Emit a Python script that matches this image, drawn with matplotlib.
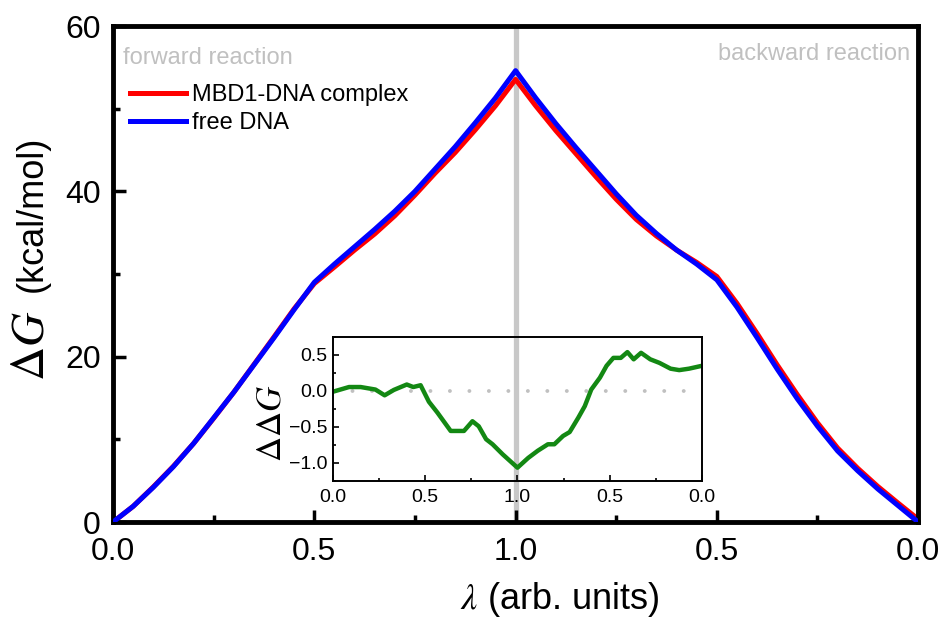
import numpy as np
import matplotlib
matplotlib.use('Agg')
import matplotlib.pyplot as plt
from matplotlib.ticker import MultipleLocator

plt.rcParams['font.family'] = ['Liberation Sans', 'DejaVu Sans']
plt.rcParams['mathtext.fontset'] = 'stix'

# main curves, x runs forward 0->1 then backward 1->0 (plotted as 0..2)
lam = [0.0, 0.05, 0.10, 0.15, 0.20, 0.25, 0.30, 0.35, 0.40, 0.45, 0.50,
       0.55, 0.60, 0.65, 0.70, 0.75, 0.80, 0.85, 0.90, 0.95, 1.00,
       1.05, 1.10, 1.15, 1.20, 1.25, 1.30, 1.35, 1.40, 1.45, 1.50,
       1.55, 1.60, 1.65, 1.70, 1.75, 1.80, 1.85, 1.90, 1.95, 2.00]
free_dna = [0.0, 1.9, 4.2, 6.7, 9.5, 12.6, 15.7, 19.0, 22.3, 25.7, 29.0,
            31.2, 33.3, 35.4, 37.6, 40.0, 42.7, 45.4, 48.3, 51.3, 54.6,
            51.3, 48.2, 45.3, 42.5, 39.7, 37.1, 34.9, 32.9, 31.2, 29.3,
            26.0, 22.3, 18.5, 14.9, 11.6, 8.6, 6.2, 4.0, 2.0, 0.0]
complex_mbd1 = [0.0, 1.9, 4.25, 6.75, 9.5, 12.55, 15.7, 19.05, 22.4, 25.8, 28.85,
                30.85, 32.9, 34.85, 37.05, 39.55, 42.2, 44.7, 47.45, 50.35, 53.55,
                50.35, 47.35, 44.55, 41.75, 39.05, 36.6, 34.6, 32.9, 31.4, 29.7,
                26.45, 22.8, 19.0, 15.4, 12.0, 8.95, 6.5, 4.3, 2.3, 0.35]

# inset: ddG
dd_x = [0.0, 0.087, 0.15, 0.23, 0.28, 0.33, 0.40, 0.435, 0.475, 0.52, 0.566,
        0.638, 0.71, 0.756, 0.79, 0.83, 0.865, 0.92, 1.0, 1.058, 1.11, 1.165,
        1.2, 1.247, 1.283, 1.33, 1.365, 1.40, 1.447, 1.483, 1.52, 1.56, 1.596,
        1.63, 1.67, 1.72, 1.77, 1.83, 1.877, 1.93, 2.0]
dd_g = [-0.01, 0.055, 0.055, 0.02, -0.06, 0.015, 0.09, 0.055, 0.08, -0.15, -0.30,
        -0.555, -0.555, -0.42, -0.49, -0.67, -0.74, -0.88, -1.065, -0.93, -0.83, -0.74,
        -0.74, -0.625, -0.57, -0.37, -0.21, 0.02, 0.185, 0.35, 0.46, 0.46, 0.54,
        0.44, 0.53, 0.44, 0.39, 0.31, 0.29, 0.31, 0.35]

tick_pos = [0, 0.5, 1.0, 1.5, 2.0]
tick_lab = ['0.0', '0.5', '1.0', '0.5', '0.0']

fig = plt.figure(figsize=(9.46, 6.18), dpi=100)
ax = fig.add_axes([0.1195, 0.1553, 0.851, 0.8026])

ax.axvline(1.0, color='#c8c8c8', lw=3.8, zorder=1)
ax.plot(lam, complex_mbd1, color='#ff0000', lw=3.6, label='MBD1-DNA complex', zorder=2)
ax.plot(lam, free_dna, color='#0000ff', lw=3.6, label='free DNA', zorder=3)

ax.set_xlim(0, 2)
ax.set_ylim(0, 60)
ax.set_xticks(tick_pos)
ax.set_xticklabels(tick_lab)
ax.xaxis.set_minor_locator(MultipleLocator(0.25))
ax.set_yticks([0, 20, 40, 60])
ax.yaxis.set_minor_locator(MultipleLocator(10))
ax.tick_params(which='both', direction='in', top=False, right=False, width=2.5)
ax.tick_params(which='major', length=9, labelsize=23)
ax.tick_params(which='minor', length=5)
ax.tick_params(axis='x', which='major', pad=11)
ax.tick_params(axis='y', which='major', pad=9)
for s in ax.spines.values():
    s.set_linewidth(3.5)

ax.text(0.0124, 0.923, 'forward reaction', transform=ax.transAxes,
        color='#c0c0c0', fontsize=17, va='baseline', ha='left')
ax.text(0.990, 0.931, 'backward reaction', transform=ax.transAxes,
        color='#c0c0c0', fontsize=17, va='baseline', ha='right')

ax.legend(loc='upper left', bbox_to_anchor=(0.0205, 0.883), frameon=False,
          fontsize=17, handlelength=2.4, handletextpad=0.25, labelspacing=0.25,
          borderpad=0, borderaxespad=0)

fig.text(560 / 946, 1 - 580 / 618, r'$\lambda$ (arb. units)', fontsize=26,
         ha='center', va='top')
fig.text(32 / 946, 1 - 214 / 618, '(kcal/mol)', fontsize=26, rotation=90,
         ha='center', va='center')
fig.text(31 / 946, 1 - 346 / 618, r'$\Delta G$', fontsize=34, rotation=90,
         ha='center', va='center')

# inset
ins = fig.add_axes([0.352, 0.2217, 0.390, 0.233], facecolor='none')
ins.axhline(0, color='#c0c0c0', lw=2.8, linestyle=(0, (0.01, 5.0)),
            dash_capstyle='round')
ins.plot(dd_x, dd_g, color='#138813', lw=3.2)
ins.set_xlim(0, 2)
ins.set_ylim(-1.25, 0.75)
ins.set_xticks(tick_pos)
ins.set_xticklabels(tick_lab)
ins.xaxis.set_minor_locator(MultipleLocator(0.25))
ins.set_yticks([-1.0, -0.5, 0.0, 0.5])
ins.yaxis.set_minor_locator(MultipleLocator(0.25))
ins.tick_params(which='both', direction='in', top=False, right=False, width=1.2,
                labelsize=14)
ins.tick_params(which='major', length=4)
ins.tick_params(which='minor', length=2.5)
ins.tick_params(axis='x', pad=6)
ins.tick_params(axis='y', pad=4)
for s in ins.spines.values():
    s.set_linewidth(1.4)
fig.text(271 / 946, 1 - 423 / 618, r'$\Delta\Delta G$', fontsize=25, rotation=90,
         ha='center', va='center')

fig.savefig('out.png', dpi=100)
